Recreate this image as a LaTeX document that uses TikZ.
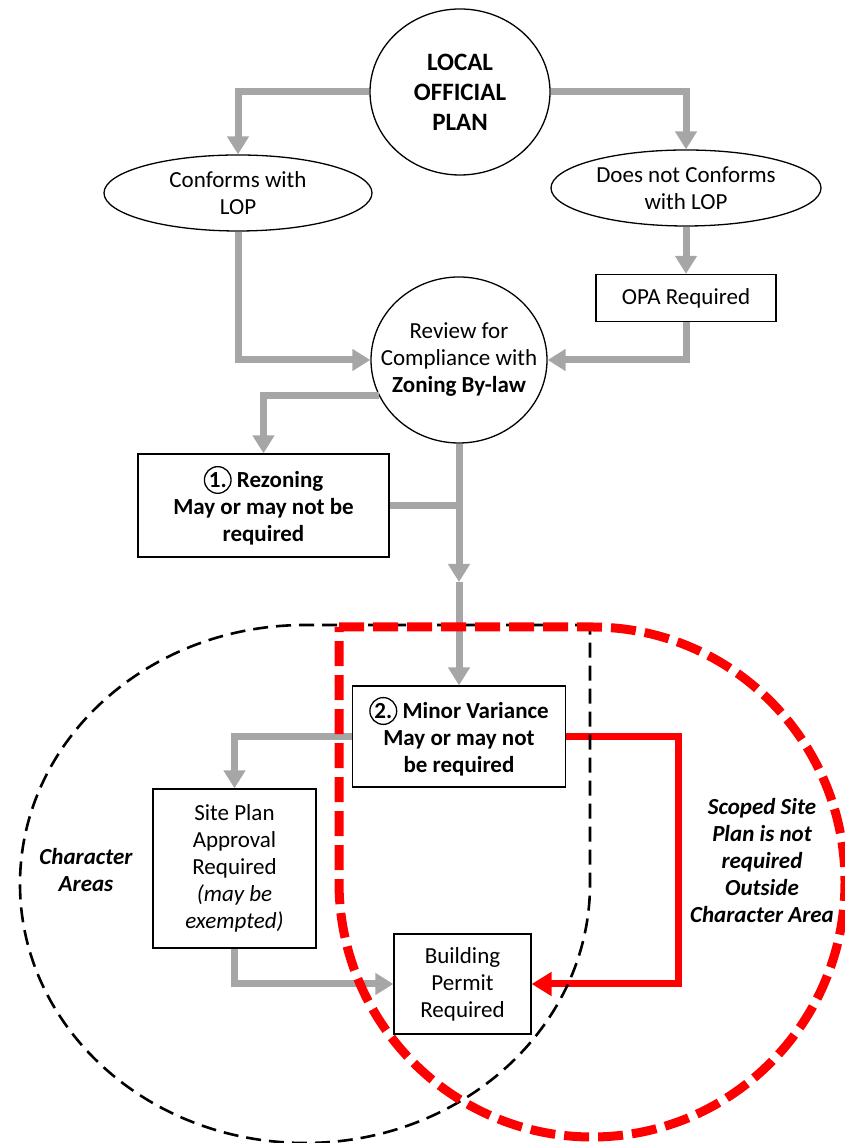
\documentclass[tikz,border=0pt]{standalone}
\usepackage{fontspec}
\setmainfont{Carlito}
\usetikzlibrary{arrows.meta,shapes.geometric}
\definecolor{arrowgray}{HTML}{A6A6A6}
\definecolor{flowred}{HTML}{FF0000}
\newcommand\circnum[2]{\tikz[baseline=(#2.base)]\node[circle,draw=black,line width=1.3pt,inner sep=1.2pt,minimum width=0pt,minimum height=0pt,text width=,align=center,fill=none,font=\bfseries](#2){#1};}
\tikzset{
  txtfont/.style={font=\fontsize{23}{27}\selectfont},
  boxst/.style={draw=black,line width=1.3pt,align=center,inner sep=0pt,txtfont},
  ellst/.style={ellipse,draw=black,line width=1.3pt,align=center,inner sep=0pt,txtfont},
  lblst/.style={align=center,inner sep=0pt,font=\fontsize{23}{27}\selectfont\bfseries\itshape},
  garrow/.style={draw=arrowgray,line width=7pt,-{Triangle[length=18pt,width=21pt]}},
  gline/.style={draw=arrowgray,line width=7pt},
  rarrow/.style={draw=flowred,line width=7pt,-{Triangle[length=20pt,width=23pt]}},
  blackdash/.style={draw=black,line width=2.6pt,dash pattern=on 15pt off 8pt},
  reddash/.style={draw=flowred,line width=9pt,dash pattern=on 25pt off 9pt}
}
\begin{document}
\begin{tikzpicture}[x=1pt,y=1pt]
\useasboundingbox (0,0) rectangle (844,1143);
% nodes
\node[ellst,minimum width=180pt,minimum height=166pt,font=\fontsize{25}{30}\selectfont\bfseries] (local) at (460,1051) {LOCAL\\OFFICIAL\\PLAN};
\node[ellst,minimum width=268pt,minimum height=76pt] (conf) at (238,950) {Conforms with\\LOP};
\node[ellst,minimum width=270pt,minimum height=76pt] (nconf) at (686,955) {Does not Conforms\\with LOP};
\node[boxst,minimum width=180pt,minimum height=47pt] (opa) at (686,845) {OPA Required};
\node[ellst,inner xsep=-17pt,minimum width=176pt,minimum height=166pt] (review) at (459,783) {Review for\\Compliance with\\\textbf{Zoning By-law}};
\node[boxst,minimum width=251pt,minimum height=103pt,font=\fontsize{23}{27}\selectfont\bfseries] (rez) at (263.5,637.5) {\circnum{1.}{cone} Rezoning\\May or may not be\\required};
\node[boxst,minimum width=213pt,minimum height=101pt,font=\fontsize{23}{27}\selectfont\bfseries] (minor) at (459,406.5) {\circnum{2.}{ctwo} Minor Variance\\May or may not\\be required};
\node[boxst,minimum width=163pt,minimum height=159pt] (site) at (234.5,274.5) {Site Plan\\Approval\\Required\\\textit{(may be}\\\textit{exempted)}};
\node[boxst,minimum width=137pt,minimum height=100pt] (bldg) at (462.5,159) {Building\\Permit\\Required};
\node[lblst] (chartxt) at (86,273) {Character\\Areas};
\node[lblst] (scoped) at (762,282) {Scoped Site\\Plan is not\\required\\Outside\\Character Area};
\coordinate (mid) at (459,561);
\coordinate (rturn) at (678,406.5);
% gray connectors
\draw[garrow] (local.west) -| (conf.north);
\draw[garrow] (local.east) -| (nconf.north);
\draw[garrow] (conf.south) |- (review.west);
\draw[garrow] (nconf.south) -- (opa.north);
\draw[garrow] (opa.south) |- (review.east);
\draw[garrow] (review.204) -| (rez.north);
\draw[garrow] (review.south) -- (mid);
\draw[garrow] (mid) -- (minor.north);
\draw[gline] (rez.east) -- (rez.east -| mid);
\draw[garrow] (minor.west) -| (site.north);
\draw[garrow] (site.south) |- (bldg.west);
% red connector
\draw[rarrow] (minor.east) -- (rturn) |- (bldg.east);
% dashed areas
\draw[blackdash] (590,518) -- (305,518) arc[start angle=90,end angle=360,x radius=285,y radius=259] -- cycle;
\draw[reddash] (339,516) -- (592,516) arc[start angle=90,end angle=-180,x radius=253,y radius=255] -- cycle;
\end{tikzpicture}
\end{document}
